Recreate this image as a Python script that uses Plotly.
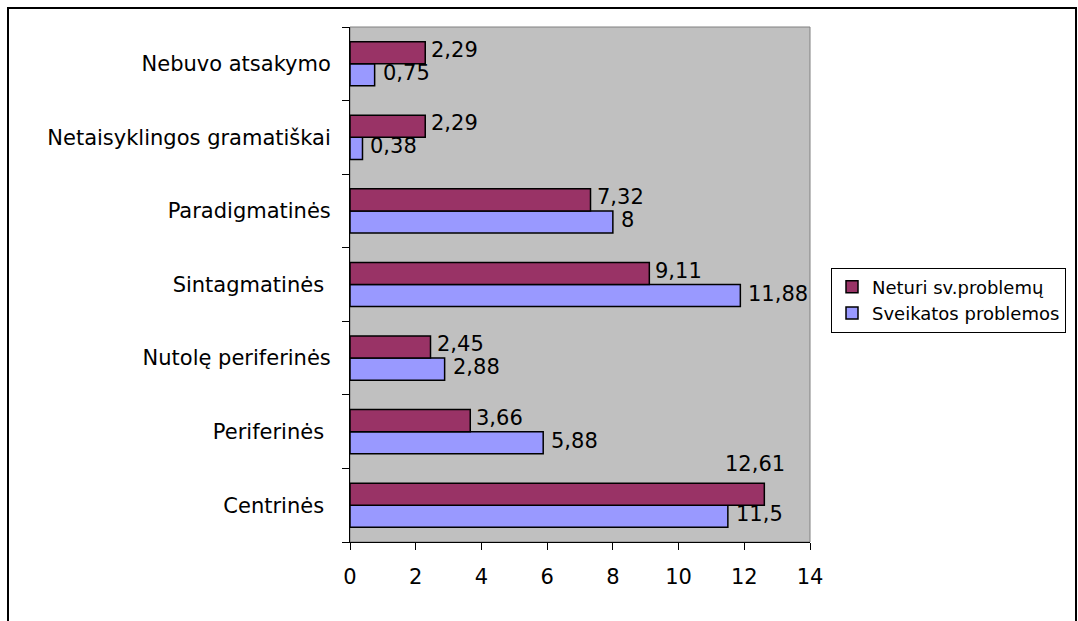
import plotly.graph_objects as go

# Categories listed bottom to top
categories = [
    "Centrinės\u00a0",
    "Periferinės\u00a0",
    "Nutolę periferinės",
    "Sintagmatinės\u00a0",
    "Paradigmatinės",
    "Netaisyklingos gramatiškai",
    "Nebuvo atsakymo",
]
neturi = [12.61, 3.66, 2.45, 9.11, 7.32, 2.29, 2.29]
sveikatos = [11.5, 5.88, 2.88, 11.88, 8, 0.38, 0.75]

series_names = ["Neturi sv.problemų", "Sveikatos problemos"]
FONT = "DejaVu Sans"


def fmt(v):
    return f"{v:g}".replace(".", ",")


fig = go.Figure()
fig.add_trace(go.Bar(
    y=categories, x=sveikatos, orientation="h", name=series_names[1],
    marker=dict(color="#9999FF", line=dict(color="black", width=1.5)),
))
fig.add_trace(go.Bar(
    y=categories, x=neturi, orientation="h", name=series_names[0],
    marker=dict(color="#993366", line=dict(color="black", width=1.5)),
))

annotations = []
for cat, v in zip(categories, neturi):
    if v > 12:
        annotations.append(dict(x=v, y=cat, text=fmt(v), showarrow=False,
                                xanchor="center", yanchor="middle",
                                xshift=-9, yshift=41))
    else:
        annotations.append(dict(x=v, y=cat, text=fmt(v), showarrow=False,
                                xanchor="left", yanchor="middle",
                                xshift=4, yshift=14))
for cat, v in zip(categories, sveikatos):
    annotations.append(dict(x=v, y=cat, text=fmt(v), showarrow=False,
                            xanchor="left", yanchor="middle",
                            xshift=6, yshift=-9))
for a in annotations:
    a["font"] = dict(family=FONT, size=21, color="black")

L, R, T, B = 350, 810, 27, 542
W, H = 1078, 621


def px_x(p):
    return (p - L) / (R - L)


def px_y(p):
    return (B - p) / (B - T)


shapes = [
    # plot area border
    dict(type="rect", xref="x domain", yref="y domain", x0=0, x1=1, y0=0, y1=1,
         line=dict(color="#808080", width=1), layer="below"),
    # outer chart frame
    dict(type="rect", xref="paper", yref="paper",
         x0=px_x(8), x1=px_x(1076), y0=px_y(640), y1=px_y(8),
         line=dict(color="black", width=2)),
]

fig.update_layout(
    width=W, height=H,
    margin=dict(l=L, r=W - R, t=T, b=H - B, autoexpand=False),
    paper_bgcolor="white",
    plot_bgcolor="#C0C0C0",
    barmode="group",
    bargap=0.4,
    bargroupgap=0,
    font=dict(family=FONT, size=21, color="black"),
    showlegend=True,
    legend=dict(
        xref="container", yref="container",
        x=831 / W, y=1 - 300 / H, xanchor="left", yanchor="middle",
        traceorder="reversed",
        bordercolor="black", borderwidth=1, bgcolor="white",
        font=dict(family=FONT, size=18, color="black"),
        tracegroupgap=0,
    ),
    annotations=annotations,
    shapes=shapes,
    xaxis=dict(
        range=[0, 14], dtick=2, tick0=0,
        showgrid=False, zeroline=False,
        showline=True, linecolor="black", linewidth=1,
        ticks="outside", ticklen=7, tickcolor="black",
        tickfont=dict(family=FONT, size=21),
        ticklabelstandoff=9,
    ),
    yaxis=dict(
        type="category",
        categoryorder="array", categoryarray=categories,
        showgrid=False, zeroline=False,
        showline=True, linecolor="black", linewidth=1,
        ticks="outside", ticklen=7, tickcolor="black", tickson="boundaries",
        tickfont=dict(family=FONT, size=21),
        ticklabelstandoff=14,
    ),
)

fig.update_traces(cliponaxis=False)

fig.write_html("out.html")
